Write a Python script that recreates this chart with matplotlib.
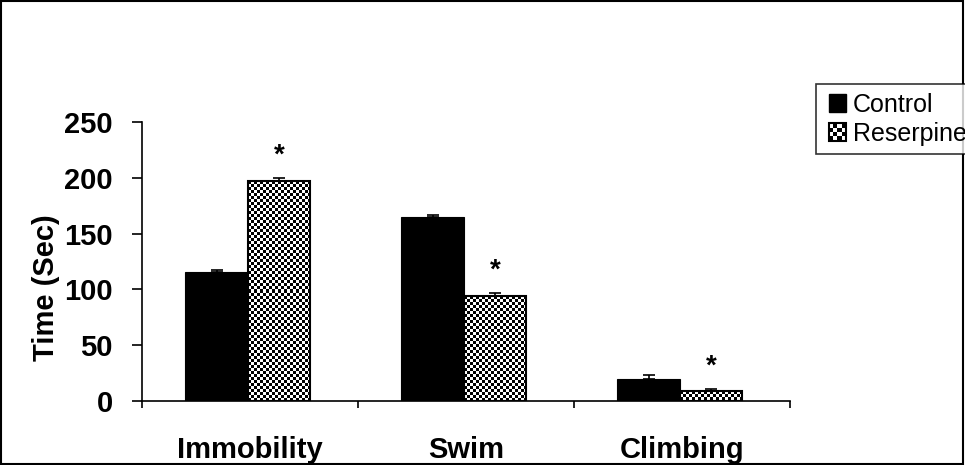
import numpy as np
import matplotlib
matplotlib.use("Agg")
import matplotlib.pyplot as plt
from matplotlib.patches import Rectangle, Patch

categories = ["Immobility", "Swim", "Climbing"]
control = [116, 165, 20]
control_err = [1.5, 1.5, 3.5]
reserpine = [197, 94, 9]
reserpine_err = [3, 3, 2]
yticks = [0, 50, 100, 150, 200, 250]

plt.rcParams['font.family'] = ['Liberation Sans', 'DejaVu Sans']

W, H = 965, 465
fig = plt.figure(figsize=(W/100, H/100), dpi=100)
ax = fig.add_axes([142/W, 1-401/H, 648/W, 279/H])

n = len(categories)
centers = np.arange(n) + 0.5
bw = 0.29
xc = centers - 0.155
xr = centers + 0.135

ax.bar(xc, control, width=bw, color='black', edgecolor='black', linewidth=0.8,
       yerr=[np.zeros(n), control_err], capsize=4.5,
       error_kw=dict(ecolor='black', elinewidth=1.2, capthick=1.2), zorder=2)
rbars = ax.bar(xr, reserpine, width=bw, color='white', edgecolor='black', linewidth=1.5,
               yerr=[np.zeros(n), reserpine_err], capsize=4.5,
               error_kw=dict(ecolor='black', elinewidth=1.2, capthick=1.2), zorder=3)

ax.set_xlim(0, n)
ax.set_ylim(0, 250)

# checkerboard fill for reserpine bars
px_per_x = 648 / n
px_per_y = 279 / 250
sq = 3.0
for b in rbars:
    x0, y0 = b.get_x(), b.get_y()
    w, h = b.get_width(), b.get_height()
    nx = max(1, int(round(w * px_per_x / sq)))
    ny = max(1, int(round(h * px_per_y / sq)))
    ii, jj = np.indices((ny, nx))
    checker = ((ii + jj) % 2).astype(float)
    im = ax.imshow(checker, extent=(x0, x0 + w, y0, y0 + h), cmap='gray',
                   interpolation='nearest', aspect='auto', origin='lower', zorder=2.5)
    im.set_clip_path(b)
    b.set_facecolor('none')
ax.set_xlim(0, n)
ax.set_ylim(0, 250)

# asterisks
for x, v, e in zip(xr, reserpine, reserpine_err):
    ax.text(x, v + e + 8, '*', ha='center', va='bottom', fontsize=20, fontweight='bold')

for s in ['top', 'right']:
    ax.spines[s].set_visible(False)
ax.spines['left'].set_linewidth(1.2)
ax.spines['bottom'].set_linewidth(1.2)

ax.set_yticks(yticks)
ax.set_yticklabels([str(t) for t in yticks], fontsize=21, fontweight='bold')
ax.tick_params(axis='y', direction='out', length=7, width=1.2, pad=14)

ax.set_xticks(centers)
ax.set_xticklabels(categories, fontsize=21, fontweight='bold')
ax.tick_params(axis='x', which='major', length=0, pad=25)
ax.set_xticks(np.arange(n + 1), minor=True)
ax.tick_params(axis='x', which='minor', direction='out', length=5, width=1.2)

fig.text(46/W, 1-288/H, 'Time (Sec)', rotation=90, ha='center', va='center',
         fontsize=21, fontweight='bold')


class SquareHandler:
    def __init__(self, checker):
        self.checker = checker

    def legend_artist(self, legend, orig_handle, fontsize, handlebox):
        x0, y0 = handlebox.xdescent, handlebox.ydescent
        w, h = handlebox.width, handlebox.height
        s = min(w, h)
        x0 = x0 + (w - s) / 2
        y0 = y0 + (h - s) / 2
        tr = handlebox.get_transform()
        if self.checker:
            k = 4
            c = s / k
            handlebox.add_artist(Rectangle((x0, y0), s, s, facecolor='white',
                                           edgecolor='none', transform=tr))
            for i in range(k):
                for j in range(k):
                    if (i + j) % 2 == 0:
                        handlebox.add_artist(Rectangle((x0 + i * c, y0 + j * c), c, c,
                                                       facecolor='black', edgecolor='none',
                                                       transform=tr))
            border = Rectangle((x0, y0), s, s, facecolor='none', edgecolor='black',
                               linewidth=1.5, transform=tr)
        else:
            border = Rectangle((x0, y0), s, s, facecolor='black', edgecolor='black',
                               linewidth=1.0, transform=tr)
        handlebox.add_artist(border)
        return border


ctrl_handle = Patch(facecolor='black', edgecolor='black')
res_handle = Patch(facecolor='white', edgecolor='black')
leg = fig.legend(handles=[ctrl_handle, res_handle],
                 labels=['Control', 'Reserpine'],
                 handler_map={ctrl_handle: SquareHandler(False),
                              res_handle: SquareHandler(True)},
                 loc='upper left', bbox_to_anchor=(816/W, 1-84/H),
                 fontsize=18, frameon=True, fancybox=False, handlelength=1.0,
                 handleheight=0.7, handletextpad=0.13, borderpad=0.35, labelspacing=0.2,
                 borderaxespad=0)
leg.get_frame().set_edgecolor('black')
leg.get_frame().set_linewidth(1.2)

fig.add_artist(Rectangle((0.001, 0.002), 0.997, 0.996, transform=fig.transFigure,
                         fill=False, edgecolor='black', linewidth=1.5))

fig.savefig('out.png', dpi=100)
